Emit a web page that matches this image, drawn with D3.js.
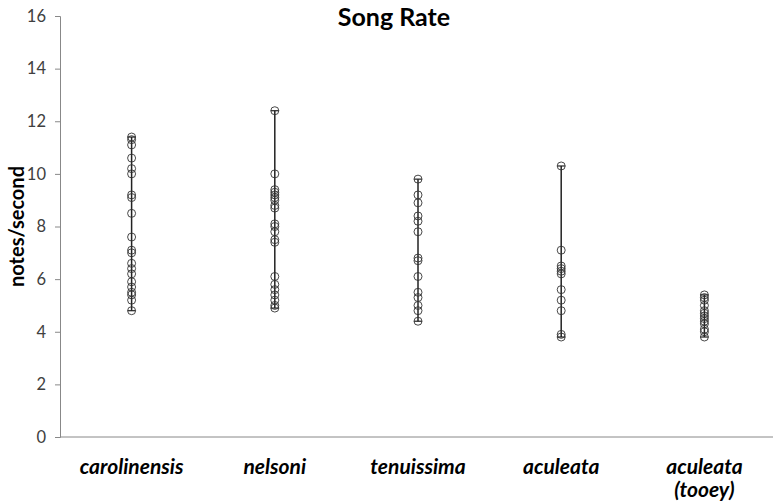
<!DOCTYPE html>
<html>
<head>
<meta charset="utf-8">
<script src="https://cdn.jsdelivr.net/npm/d3@7"></script>
<style>
  body { margin: 0; background: #fff; }
  svg { display: block; font-family: Lato, "Open Sans", sans-serif; }
</style>
</head>
<body>
<svg width="773" height="504"></svg>
<script>
const width = 773;
const height = 504;

const categories = ['carolinensis', 'nelsoni', 'tenuissima', 'aculeata', 'aculeata (tooey)'];

const carolinensis = [11.4, 11.3, 11.1, 10.6, 10.2, 10.0, 9.2, 9.1, 8.5, 7.6, 7.1, 7.0, 6.6, 6.4, 6.2, 5.9, 5.7, 5.5, 5.4, 5.2, 4.8];
const nelsoni = [12.4, 10.0, 9.4, 9.3, 9.2, 9.1, 9.0, 8.8, 8.7, 8.1, 8.0, 7.8, 7.5, 7.4, 6.1, 5.8, 5.6, 5.4, 5.2, 5.0, 4.9];
const tenuissima = [9.8, 9.2, 8.9, 8.4, 8.2, 7.8, 6.8, 6.7, 6.1, 5.5, 5.3, 5.0, 4.8, 4.4];
const aculeata = [10.3, 7.1, 6.5, 6.4, 6.3, 6.2, 5.6, 5.2, 4.8, 3.9, 3.8];
const aculeataTooey = [5.4, 5.3, 5.2, 5.0, 4.8, 4.7, 4.6, 4.5, 4.4, 4.3, 4.1, 4.0, 3.8];

const yTicks = [0, 2, 4, 6, 8, 10, 12, 14, 16];

const series = [carolinensis, nelsoni, tenuissima, aculeata, aculeataTooey];
const groups = categories.map((c, i) => ({ name: c, values: series[i] }));

const svg = d3.select('svg');

const x = d3.scaleBand()
  .domain(categories)
  .range([60, 776]);

const y = d3.scaleLinear()
  .domain([0, 16])
  .range([437, 16]);

// y axis
const yAxis = svg.append('g')
  .attr('transform', 'translate(60,0)')
  .call(d3.axisLeft(y).tickValues(yTicks).tickSize(5).tickPadding(9));
yAxis.select('.domain').attr('stroke', '#888');
yAxis.selectAll('.tick line').attr('stroke', '#888');
yAxis.selectAll('.tick text')
  .attr('font-size', 16.5)
  .attr('fill', '#404040')
  .attr('font-family', 'Lato, "Open Sans", sans-serif');

// x axis line
svg.append('line')
  .attr('x1', 60).attr('x2', width)
  .attr('y1', y(0)).attr('y2', y(0))
  .attr('stroke', '#888');

// category labels
const labels = svg.selectAll('.cat')
  .data(categories)
  .enter()
  .append('text')
  .attr('class', 'cat')
  .attr('x', d => x(d) + x.bandwidth() / 2)
  .attr('y', 474)
  .attr('text-anchor', 'middle')
  .attr('font-size', 21)
  .attr('font-weight', 'bold')
  .attr('font-style', 'italic')
  .attr('fill', '#000');

labels.each(function (d) {
  const parts = d.split(' ');
  const t = d3.select(this);
  parts.forEach((p, i) => {
    t.append('tspan')
      .attr('x', x(d) + x.bandwidth() / 2)
      .attr('dy', i === 0 ? 0 : 23)
      .text(p);
  });
});

// min-max lines
const cols = svg.selectAll('.col')
  .data(groups)
  .enter()
  .append('g')
  .attr('class', 'col')
  .attr('transform', d => `translate(${x(d.name) + x.bandwidth() / 2},0)`);

cols.append('line')
  .attr('y1', d => y(d3.max(d.values)))
  .attr('y2', d => y(d3.min(d.values)))
  .attr('stroke', '#222')
  .attr('stroke-width', 1.5);

cols.selectAll('.cap')
  .data(d => [d3.max(d.values), d3.min(d.values)])
  .enter()
  .append('line')
  .attr('class', 'cap')
  .attr('x1', -4).attr('x2', 4)
  .attr('y1', d => y(d)).attr('y2', d => y(d))
  .attr('stroke', '#222')
  .attr('stroke-width', 1.2);

cols.selectAll('circle')
  .data(d => d.values)
  .enter()
  .append('circle')
  .attr('cx', 0)
  .attr('cy', d => y(d))
  .attr('r', 4)
  .attr('fill', 'none')
  .attr('stroke', '#333')
  .attr('stroke-width', 0.9);

// titles
svg.append('text')
  .attr('x', 394)
  .attr('y', 26)
  .attr('text-anchor', 'middle')
  .attr('font-size', 25)
  .attr('font-weight', 'bold')
  .text('Song Rate');

svg.append('text')
  .attr('transform', `translate(24,${(y(0) + y(16)) / 2}) rotate(-90)`)
  .attr('text-anchor', 'middle')
  .attr('font-size', 20)
  .attr('font-weight', 'bold')
  .text('notes/second');
</script>
</body>
</html>
